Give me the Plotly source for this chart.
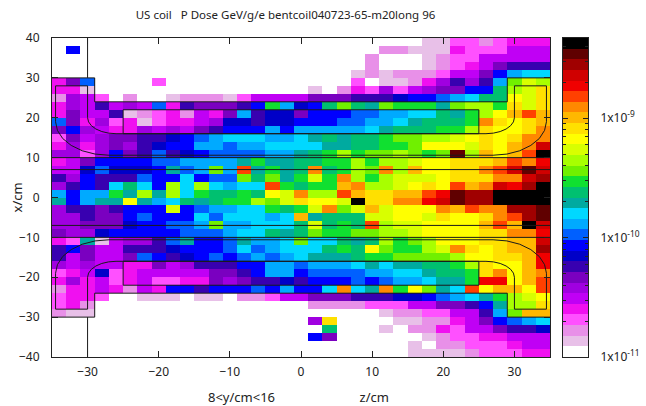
import plotly.graph_objects as go

TITLE = "US coil\u00a0\u00a0\u00a0P Dose GeV/g/e bentcoil040723-65-m20long 96"
XLABEL = "8&lt;y/cm&lt;16" + "\u00a0" * 25 + "z/cm"
YLABEL = "x/cm"

# palette of the 30 dose bands, lowest (white) to highest (black)
band_colors = [
    "#ffffff", "#e8c0e8", "#e890e8", "#ff50ff", "#f010f0", "#c000f5", "#a000e0", "#7a00c0",
    "#3800b0", "#0000c8", "#0000ff", "#0060ff", "#00aaff", "#00d8ff", "#00aaa0", "#00c070",
    "#10e030", "#70f000", "#a8ff00", "#d8ff00", "#ffff00", "#ffe000", "#ffb800", "#ff8800",
    "#ff4000", "#f00000", "#d00000", "#a00000", "#600000", "#000000",
]
log_min = -11.0
log_max = -8.33

# dose band per cell, top row (x=40..38) first; columns z=-35..1
levels_left = [
    [0]*18,
    [0,10]+[0]*16,
    [0]*18,
    [0]*18,
    [0]*18,
    [4,7,11,0,0,0,0,3,0,0,0,0,0,0,0,0,0,0],
    [4,4,1,0,0,0,0,0,0,0,0,0,0,0,0,0,0,0],
    [2,6,5,3,0,2,0,0,1,2,2,2,1,3,5,5,5,5],
    [4,6,5,8,5,6,5,11,4,8,7,7,7,8,10,16,12,9],
    [4,7,5,5,8,1,2,3,4,2,5,4,7,12,8,9,9,7],
    [11,7,4,6,3,4,1,3,4,4,5,6,9,9,8,9,9,10],
    [7,10,6,5,4,4,6,5,6,5,7,8,10,10,10,12,10,12],
    [3,7,5,6,7,7,8,8,9,10,11,12,13,13,13,12,12,13],
    [4,6,4,6,7,6,8,9,10,10,12,12,11,12,12,13,13,13],
    [6,6,3,6,10,7,8,11,8,9,10,11,11,11,11,12,12,14],
    [4,5,7,10,10,10,10,11,11,12,12,12,12,14,16,14,14,15],
    [5,5,9,11,9,9,9,10,14,11,12,17,12,24,14,16,14,15],
    [8,6,10,8,8,8,11,10,10,13,10,11,11,17,15,17,14,16],
    [6,8,10,8,13,15,13,10,18,13,18,13,12,13,13,24,16,15],
    [12,10,12,12,16,14,18,14,18,13,16,15,15,16,15,20,19,23],
    [14,10,12,14,14,20,14,12,13,15,14,15,16,16,18,17,19,21],
    [6,8,8,7,8,10,10,10,19,10,11,12,12,13,13,16,15,16],
    [6,6,8,7,7,10,11,10,10,10,13,11,13,13,13,12,13,22],
    [6,6,7,7,7,9,10,10,11,11,12,17,12,12,13,13,13,15],
    [7,6,6,9,10,10,10,10,10,11,11,11,12,13,13,15,14,15],
    [4,3,14,1,5,6,6,8,11,14,10,10,11,14,12,12,13,17],
    [8,10,7,5,5,8,8,8,9,10,10,10,11,13,11,12,13,13],
    [8,5,7,5,5,7,11,10,8,9,10,11,10,11,12,11,12,13],
    [6,5,6,5,5,4,4,7,5,6,8,8,8,10,10,12,12,11],
    [3,4,5,9,3,4,5,5,5,5,5,7,7,8,10,12,12,10],
    [4,6,4,5,3,4,5,3,3,4,4,7,6,7,8,8,9,8],
    [2,4,4,5,4,2,5,4,10,10,8,10,10,10,11,10,12,10],
    [3,4,4,3,0,0,1,1,1,0,1,1,0,2,2,3,5,5],
    [3,4,2]+[0]*15,
    [2,1,1]+[0]*15,
    [0]*18,
    [0]*18,
    [0]*18,
    [0]*18,
    [0]*18,
]
# columns z=1..35
levels_right = [
    [0,0,0,0,0,0,0,0,1,1,3,3,2,3,4,4,4],
    [0,0,0,0,0,2,2,1,1,1,4,3,3,3,5,5,5],
    [0,0,0,0,2,0,0,0,1,2,3,3,5,5,5,5,5],
    [0,0,0,0,2,0,0,0,1,2,3,4,5,7,8,8,8],
    [0,0,0,1,2,1,2,2,2,3,5,5,7,10,12,13,13],
    [0,0,0,3,0,1,1,2,4,6,8,6,8,12,17,19,18],
    [1,0,2,4,3,6,3,5,6,7,7,10,10,15,18,19,21],
    [7,7,7,8,8,8,9,10,10,11,12,13,15,15,20,19,21],
    [10,15,17,15,14,17,16,16,16,14,17,18,18,16,21,19,21],
    [10,10,10,11,11,12,12,13,13,15,14,16,18,20,22,24,22],
    [10,10,11,11,12,12,13,14,15,15,15,16,23,21,20,21,22],
    [12,12,12,12,13,14,15,15,15,16,16,18,21,20,20,21,23],
    [14,15,14,15,15,16,17,17,18,18,19,20,21,20,21,23,23],
    [13,14,14,15,15,16,16,17,20,20,20,19,21,20,22,23,26],
    [15,16,18,16,17,17,18,17,16,17,28,18,22,20,22,24,29],
    [15,16,16,18,16,18,18,19,20,20,21,21,21,22,24,23,25],
    [23,15,16,18,17,23,18,22,20,20,21,21,23,24,26,28,26],
    [19,16,23,18,16,18,19,19,19,20,21,21,21,23,23,26,27],
    [16,16,22,23,18,18,19,20,21,20,24,22,23,26,25,27,29],
    [18,18,24,22,21,21,22,22,24,25,28,27,27,29,29,29,29],
    [20,20,19,29,21,21,23,23,25,26,28,27,27,29,29,29,29],
    [19,23,17,19,22,19,20,20,20,23,22,24,23,23,27,27,28],
    [14,15,15,15,19,19,20,20,19,21,20,20,21,23,24,27,28],
    [19,15,16,15,24,18,19,19,20,20,20,20,22,24,22,29,26],
    [17,16,16,17,17,18,18,19,20,20,20,20,21,21,23,23,25],
    [13,13,15,14,15,18,16,17,18,20,20,20,21,21,22,22,26],
    [13,15,16,15,20,17,16,16,18,19,23,21,20,21,22,22,27],
    [14,14,14,15,16,16,17,17,17,17,18,20,20,21,21,22,25],
    [12,12,12,13,14,13,14,14,15,15,16,18,21,20,20,22,25],
    [11,11,11,11,12,12,13,13,14,15,15,16,21,23,20,22,23],
    [10,10,10,11,10,11,12,12,13,14,14,16,25,25,20,22,24],
    [10,13,23,13,14,23,16,20,17,14,13,24,20,22,22,20,24],
    [7,7,7,8,8,8,9,9,10,11,12,13,14,16,18,19,20],
    [2,2,2,2,3,3,3,5,5,7,7,8,10,14,18,18,21],
    [0,0,0,0,0,1,2,2,3,3,5,5,8,12,17,22,22],
    [6,21,0,0,0,0,1,1,2,2,4,5,7,10,11,12,13],
    [0,15,0,0,0,1,0,2,2,4,3,5,5,7,8,8,9],
    [10,7,0,0,0,0,0,0,1,2,3,3,4,4,5,5,5],
    [0,0,0,0,0,0,0,1,0,2,2,3,3,3,4,5,5],
    [0,0,0,0,0,0,0,1,1,1,1,2,3,3,3,4,4],
]

# coil outlines in chart units
cage_z = [-35, -29, -29, 29, 29, 35]
cage_x = [30, 30, 24, 24, 30, 30]
post_z = [-30, -30]
post_x = [30, 40]
box_z = [-25, 25, 25, -25, -25]
box_x = [16, 16, 22, 22, 16]
coil_z = [-26, -27.04, -28, -28.83, -29.46, -29.86, -30, -30, -34.5, -34.5, -34.24, -33.5, -32.3,
          -30.75, -28.94, -27, 27, 28.94, 30.75, 32.3, 33.5, 34.24, 34.5, 34.5, 30, 30, 29.86,
          29.46, 28.83, 28, 27.04, 26, -26]
coil_x = [16, 16.14, 16.54, 17.17, 18, 18.96, 20, 28, 28, 19, 16.83, 14.8, 13.06, 11.72, 10.89,
          10.6, 10.6, 10.89, 11.72, 13.06, 14.8, 16.83, 19, 28, 28, 20, 18.96, 18, 17.17, 16.54,
          16.14, 16, 16]
rail_x = [10, 7, -7, -10]
rail_z = [-35, 35]

z_ticks = [-30, -20, -10, 0, 10, 20, 30]
x_ticks = [-40, -30, -20, -10, 0, 10, 20, 30, 40]
bar_ticks = [-11, -10, -9]
bar_labels = ["1x10<sup>-11</sup>", "1x10<sup>-10</sup>", "1x10<sup>-9</sup>"]
bar_minor = [-10.699, -10.523, -10.398, -10.301, -10.222, -10.155, -10.097, -10.046,
             -9.699, -9.523, -9.398, -9.301, -9.222, -9.155, -9.097, -9.046,
             -8.699, -8.523, -8.398]

n = len(band_colors)
step = (log_max - log_min) / n
scale = []
for i, c in enumerate(band_colors):
    scale += [[i / n, c], [(i + 1) / n, c]]

to_log = lambda lv: log_min + (lv + 0.5) * step
dose = [[to_log(v) for v in a + b] for a, b in zip(levels_left, levels_right)]
z_edges = [-35 + 2 * i for i in range(36)]
x_edges = [40 - 2 * i for i in range(41)]

INK = "#222222"
FONT = "Noto Sans"
fig = go.Figure()
fig.add_trace(go.Heatmap(z=dose, x=z_edges, y=x_edges, colorscale=scale, zmin=log_min, zmax=log_max,
                         showscale=False, xgap=0, ygap=0))

line = dict(color="#1a1a1a", width=1)
def outline(zs, xs):
    fig.add_trace(go.Scatter(x=zs, y=xs, mode="lines", line=line, showlegend=False, hoverinfo="skip"))

for sign in (1, -1):
    outline(cage_z, [sign * v for v in cage_x])
    outline(post_z, [sign * v for v in post_x])
    outline(box_z, [sign * v for v in box_x])
    outline(coil_z, [sign * v for v in coil_x])
for v in rail_x:
    outline(rail_z, [v, v])

bar_edges = [log_min + i * step for i in range(n + 1)]
fig.add_trace(go.Heatmap(z=[[to_log(i)] for i in range(n)], x=[0, 1], y=bar_edges, colorscale=scale,
                         zmin=log_min, zmax=log_max, showscale=False, xaxis="x2", yaxis="y2"))

axis_common = dict(showgrid=False, zeroline=False, showline=True, linecolor=INK, linewidth=1,
                   mirror="allticks", ticks="inside", ticklen=6, tickcolor=INK, tickwidth=1, automargin=False)
label_font = dict(family=FONT, size=13, color="#222222")
fig.update_layout(
    width=646, height=406, autosize=False,
    margin=dict(l=52, r=58, t=38, b=49, pad=0),
    paper_bgcolor="white", plot_bgcolor="white",
    font=dict(family=FONT, size=12, color="#222222"),
    showlegend=False,
    title=dict(text=TITLE, xref="paper", yref="container", x=(285.5 - 52) / 536, xanchor="center",
               y=1 - 15 / 406, yanchor="middle", automargin=False, font=dict(family=FONT, size=11.5, color="#222222")),
    xaxis=dict(domain=[0, 498 / 536], range=[-35, 35], tickmode="array", tickvals=z_ticks,
               ticklabelstandoff=4, **axis_common),
    yaxis=dict(range=[-40, 40], tickmode="array", tickvals=x_ticks, ticklabelstandoff=9, **axis_common),
    xaxis2=dict(domain=[511 / 536, 1], range=[0, 1], anchor="y2", showticklabels=False, ticks="",
                automargin=False, showgrid=False, zeroline=False, showline=True, linecolor=INK, mirror=True),
    yaxis2=dict(anchor="x2", side="right", range=[log_min, log_max], tickmode="array", tickvals=bar_ticks,
                ticktext=bar_labels, showgrid=False, zeroline=False, showline=True, linecolor=INK, automargin=False,
                mirror="allticks", ticks="inside", ticklen=5, tickcolor=INK, ticklabelstandoff=9,
                minor=dict(tickmode="array", tickvals=bar_minor, ticks="inside", ticklen=3, tickcolor=INK)),
    annotations=[
        dict(text=XLABEL, xref="paper", yref="paper", x=(298.5 - 52) / 536, y=-40 / 319,
             xanchor="center", yanchor="middle", showarrow=False, font=label_font),
        dict(text=YLABEL, xref="paper", yref="paper", x=(16 - 52) / 536, y=0.5,
             xanchor="center", yanchor="middle", textangle=-90, showarrow=False, font=label_font),
    ],
)
fig.write_html("out.html", config={"displayModeBar": False},
               post_script="document.body.style.margin='0';document.body.style.overflow='hidden';")
